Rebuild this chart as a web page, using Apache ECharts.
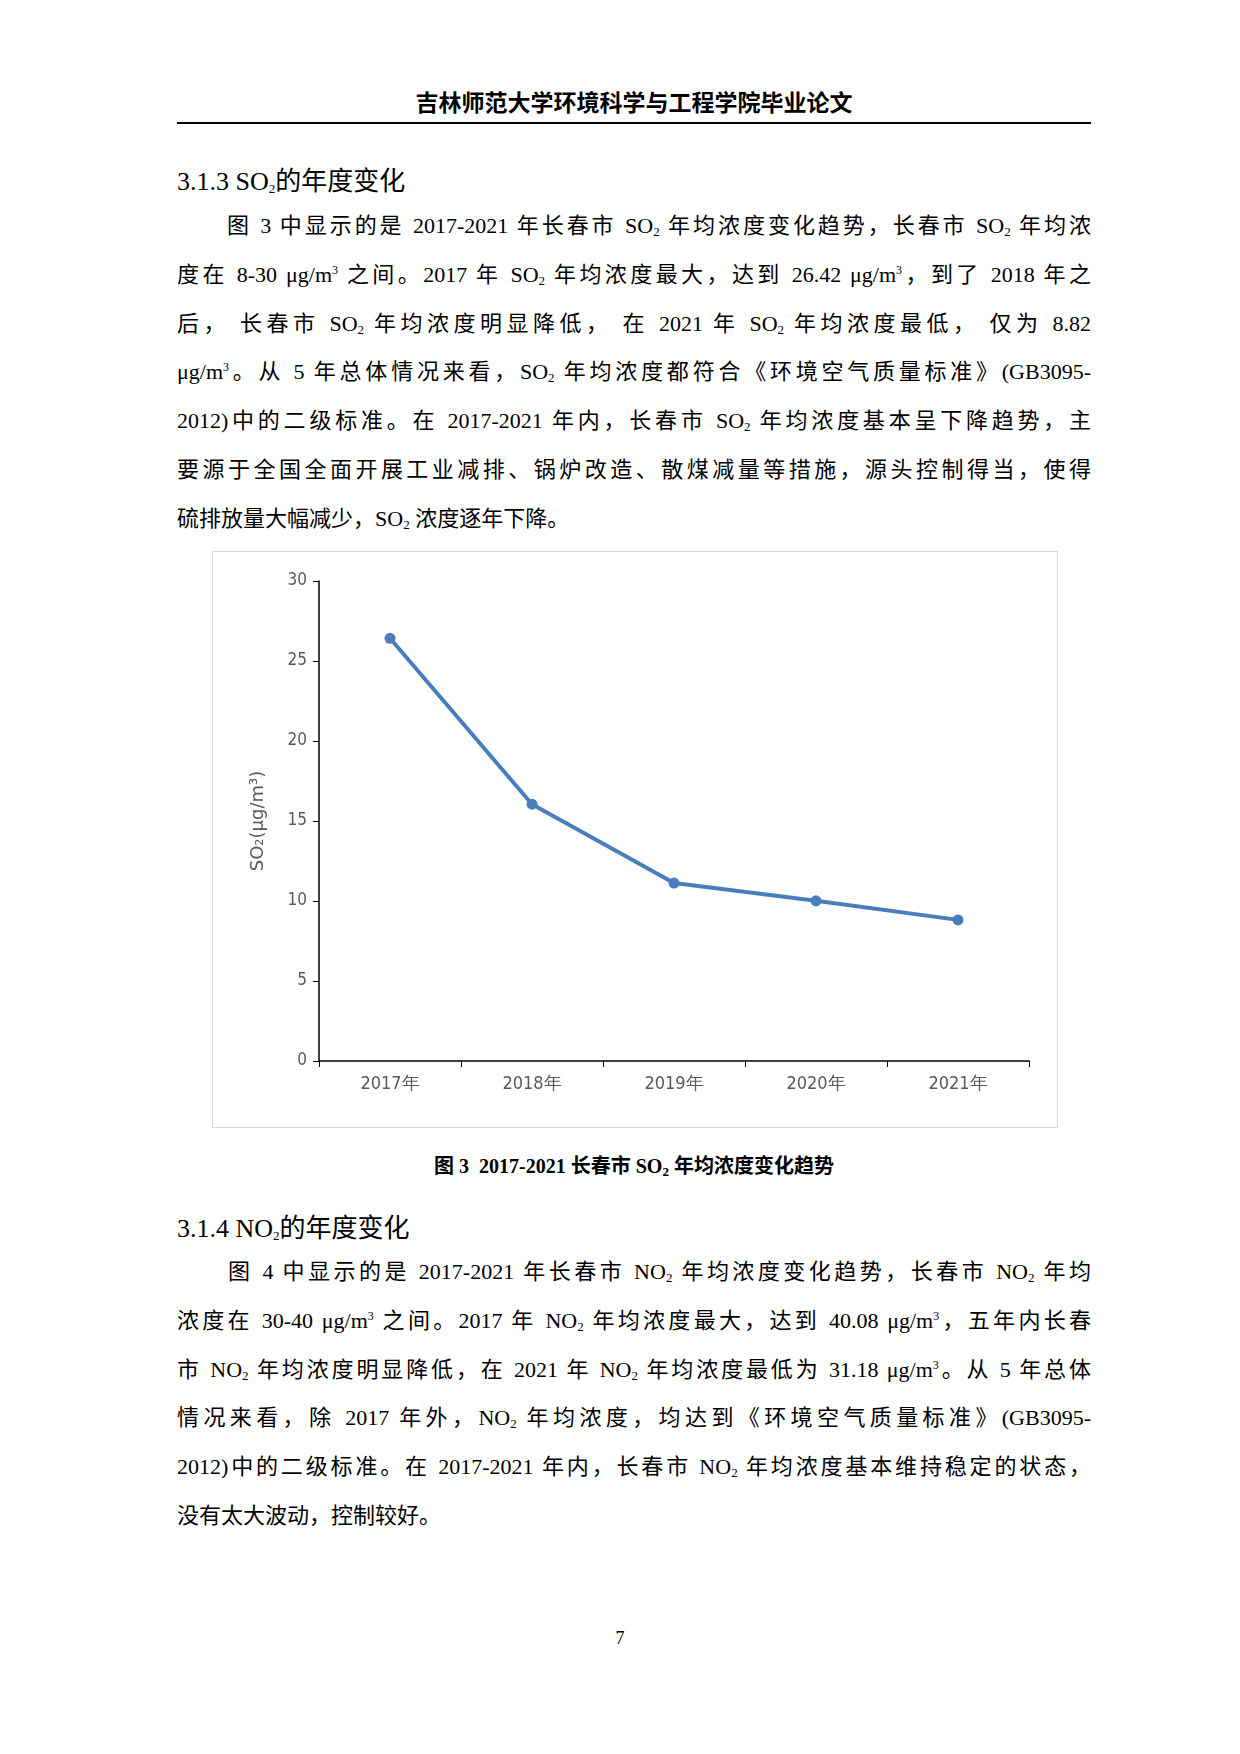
<!DOCTYPE html>
<html>
<head>
<meta charset="utf-8">
<script src="https://cdn.jsdelivr.net/npm/echarts@6/dist/echarts.min.js"></script>
<style>
body{margin:0;width:1240px;height:1754px;background:#fff;position:relative;font-family:"Liberation Serif","Noto Sans CJK SC",serif;color:#000}
.abs{position:absolute}
.hdr{left:177px;width:914px;top:84px;text-align:center;font-size:23px;font-weight:bold;border-bottom:2px solid #000;padding-bottom:4px;font-family:"Noto Sans CJK SC",sans-serif}
.h2{left:177px;font-size:26px;font-family:"Liberation Serif","Noto Sans CJK SC",serif}
.p{left:177px;width:914px;font-size:22px;line-height:48.8px}
.p div{text-align:justify;text-align-last:justify;white-space:nowrap;overflow:visible}
.p div.last{text-align-last:left}
sub{font-size:13px;vertical-align:-3px;line-height:0}
sup{font-size:12px;line-height:0}
#chart{left:212px;top:551px;width:844px;height:575px;border:1px solid #d9d9d9}
.cap{left:177px;width:914px;top:1150px;text-align:center;font-size:20px;font-weight:bold}
</style>
</head>
<body>
<div class="abs hdr">吉林师范大学环境科学与工程学院毕业论文</div>
<div class="abs h2" style="top:160px">3.1.3 SO<sub>2</sub>的年度变化</div>
<div class="abs p" style="top:202px">
<div>　　图 3 中显示的是 2017-2021 年长春市 SO<sub>2</sub> 年均浓度变化趋势，长春市 SO<sub>2</sub> 年均浓</div>
<div>度在 8-30 μg/m<sup>3</sup> 之间。2017 年 SO<sub>2</sub> 年均浓度最大，达到 26.42 μg/m<sup>3</sup>，到了 2018 年之</div>
<div>后， 长春市 SO<sub>2</sub> 年均浓度明显降低， 在 2021 年 SO<sub>2</sub> 年均浓度最低， 仅为 8.82</div>
<div>μg/m<sup>3</sup>。从 5 年总体情况来看，SO<sub>2</sub> 年均浓度都符合《环境空气质量标准》(GB3095-</div>
<div>2012)中的二级标准。在 2017-2021 年内，长春市 SO<sub>2</sub> 年均浓度基本呈下降趋势，主</div>
<div>要源于全国全面开展工业减排、锅炉改造、散煤减量等措施，源头控制得当，使得</div>
<div class="last">硫排放量大幅减少，SO<sub>2</sub> 浓度逐年下降。</div>
</div>
<div id="chart" class="abs"></div>
<div class="abs cap">图 3&nbsp; 2017-2021 长春市 SO<sub>2</sub> 年均浓度变化趋势</div>
<div class="abs h2" style="top:1207px">3.1.4 NO<sub>2</sub>的年度变化</div>
<div class="abs p" style="top:1248px">
<div>　　图 4 中显示的是 2017-2021 年长春市 NO<sub>2</sub> 年均浓度变化趋势，长春市 NO<sub>2</sub> 年均</div>
<div>浓度在 30-40 μg/m<sup>3</sup> 之间。2017 年 NO<sub>2</sub> 年均浓度最大，达到 40.08 μg/m<sup>3</sup>，五年内长春</div>
<div>市 NO<sub>2</sub> 年均浓度明显降低，在 2021 年 NO<sub>2</sub> 年均浓度最低为 31.18 μg/m<sup>3</sup>。从 5 年总体</div>
<div>情况来看，除 2017 年外，NO<sub>2</sub> 年均浓度，均达到《环境空气质量标准》(GB3095-</div>
<div>2012)中的二级标准。在 2017-2021 年内，长春市 NO<sub>2</sub> 年均浓度基本维持稳定的状态，</div>
<div class="last">没有太大波动，控制较好。</div>
</div>
<div class="abs" style="left:0;width:1240px;top:1628px;text-align:center;font-size:18px">7</div>
<script>
var years = ['2017年', '2018年', '2019年', '2020年', '2021年'];
var so2 = [26.42, 16.05, 11.12, 10.01, 8.82];
var yTicks = {min: 0, max: 30, interval: 5};

var chart = echarts.init(document.getElementById('chart'));
chart.setOption({
  animation: false,
  grid: {left: 106, right: 28, top: 29, bottom: 66},
  xAxis: {
    type: 'category', data: years, boundaryGap: true,
    axisLine: {lineStyle: {color: '#000', width: 1.5}},
    axisTick: {show: true, length: 6, lineStyle: {color: '#000'}},
    axisLabel: {color: '#595959', fontSize: 18, margin: 14, fontFamily: 'DejaVu Sans Condensed'}
  },
  yAxis: {
    type: 'value', min: yTicks.min, max: yTicks.max, interval: yTicks.interval,
    name: 'SO₂(μg/m³)', nameLocation: 'middle', nameGap: 52,
    nameTextStyle: {color: '#595959', fontSize: 18, fontFamily: 'DejaVu Sans'},
    splitLine: {show: false},
    axisLine: {show: true, lineStyle: {color: '#000', width: 1.5}},
    axisTick: {show: true, length: 6, lineStyle: {color: '#000'}},
    axisLabel: {color: '#595959', fontSize: 17, margin: 12, fontFamily: 'DejaVu Sans Condensed'}
  },
  series: [{
    type: 'line', data: so2,
    symbol: 'circle', symbolSize: 11,
    lineStyle: {color: '#4a7ebb', width: 4},
    itemStyle: {color: '#4a7ebb'}
  }]
});
</script>
</body>
</html>
